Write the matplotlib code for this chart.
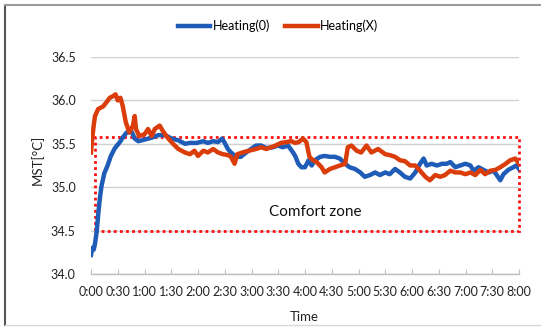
import matplotlib
matplotlib.use('Agg')
import matplotlib.pyplot as plt
from matplotlib.patches import Rectangle
from matplotlib.lines import Line2D

plt.rcParams['font.family'] = ['Lato', 'DejaVu Sans']

# elapsed time in minutes, skin temperature in degC
t_on = [0, 1.5, 3, 4.5, 6.4, 8.2, 10, 11.9, 14.9, 18.6, 22.3, 26.8, 32.4, 36.1, 40, 45.6,
        49, 53, 57, 60.6, 68, 75.5, 83, 90.5, 98, 105.4, 111, 118.5, 126, 131, 137, 142.5,
        147, 150, 153.5, 157, 162.6, 168, 174, 179.5, 185, 191, 196.5, 204, 209.7, 215, 221,
        226.6, 229, 232.5, 236, 240, 244, 247.5, 251, 257, 262, 268, 273.6, 279, 285, 290,
        296, 302, 307, 313, 318.6, 324, 330, 335, 341, 346.5, 352, 358, 363.7, 369, 373,
        376.5, 382, 388, 393.6, 399, 403, 408.6, 414, 420, 425.5, 429, 434.7, 440, 446,
        451.5, 455, 459, 462.6, 468, 473.6, 477, 480]
mst_on = [34.22, 34.30, 34.28, 34.35, 34.49, 34.70, 34.88, 35.02, 35.16, 35.25, 35.36, 35.45,
          35.52, 35.58, 35.63, 35.64, 35.56, 35.53, 35.54, 35.55, 35.57, 35.60, 35.60, 35.56,
          35.54, 35.50, 35.51, 35.51, 35.53, 35.51, 35.53, 35.52, 35.56, 35.51, 35.44, 35.40,
          35.35, 35.35, 35.40, 35.44, 35.48, 35.48, 35.45, 35.46, 35.48, 35.46, 35.48, 35.40,
          35.36, 35.27, 35.23, 35.23, 35.31, 35.25, 35.31, 35.35, 35.36, 35.35, 35.35, 35.33,
          35.27, 35.23, 35.21, 35.17, 35.12, 35.14, 35.17, 35.14, 35.17, 35.15, 35.21, 35.17,
          35.12, 35.10, 35.17, 35.27, 35.33, 35.25, 35.27, 35.25, 35.27, 35.27, 35.29, 35.23,
          35.25, 35.27, 35.25, 35.19, 35.23, 35.20, 35.17, 35.19, 35.14, 35.08, 35.15, 35.20,
          35.23, 35.25, 35.21]

t_off = [0, 1, 3, 4.5, 8, 13.5, 17.5, 21, 25, 27.5, 30, 33, 35.5, 39, 43, 47, 49, 50.5, 54,
         60, 64, 68, 71.5, 77, 81, 86, 92, 98, 105.4, 111, 116, 120, 126, 131, 137, 142.5,
         148, 153.5, 157, 161, 164, 170, 177, 185, 191, 196.5, 202, 207, 213, 219, 224.7,
         229, 233, 237.8, 241.5, 245, 249, 253, 258.6, 262, 268, 273.6, 279, 285, 288, 292,
         298, 303, 309, 314.5, 322, 330, 335, 341, 346.6, 352, 358, 363.7, 369, 375, 380,
         386, 391.6, 397, 403, 408.6, 414, 420, 425.5, 431, 436.6, 442, 448, 453.7, 459,
         465, 470, 476, 480]
mst_off = [35.40, 35.52, 35.71, 35.82, 35.90, 35.93, 35.98, 36.03, 36.05, 36.07, 36.00, 36.03,
           35.94, 35.75, 35.63, 35.71, 35.82, 35.67, 35.59, 35.61, 35.67, 35.59, 35.67, 35.71,
           35.64, 35.57, 35.50, 35.44, 35.40, 35.38, 35.42, 35.36, 35.42, 35.40, 35.44, 35.40,
           35.38, 35.37, 35.35, 35.27, 35.38, 35.40, 35.42, 35.44, 35.46, 35.44, 35.46, 35.48,
           35.51, 35.52, 35.53, 35.51, 35.52, 35.56, 35.52, 35.35, 35.31, 35.29, 35.23, 35.17,
           35.21, 35.23, 35.25, 35.27, 35.46, 35.48, 35.42, 35.40, 35.48, 35.40, 35.44, 35.38,
           35.37, 35.35, 35.31, 35.30, 35.25, 35.25, 35.19, 35.12, 35.08, 35.14, 35.12, 35.14,
           35.19, 35.17, 35.17, 35.15, 35.17, 35.14, 35.20, 35.15, 35.19, 35.20, 35.23, 35.27,
           35.31, 35.33, 35.27]

tick_min = list(range(0, 481, 30))
tick_lab = ['%d:%02d' % (m // 60, m % 60) for m in tick_min]
y_ticks = [34.0, 34.5, 35.0, 35.5, 36.0, 36.5]

# comfort zone box: start time, lower / upper temperature
zone_t0 = 4
zone_lo = 34.5
zone_hi = 35.58

fig = plt.figure(figsize=(5.41, 3.27), dpi=100)
ax = fig.add_axes([91 / 541, 1 - 274 / 327, 428 / 541, 217 / 327])

ax.plot(t_on, mst_on, color='#1F5CB8', lw=3.2, label='Heating(0)', zorder=3)
ax.plot(t_off, mst_off, color='#DA3D0A', lw=3.2, label='Heating(X)', zorder=4)

ax.add_patch(Rectangle((zone_t0, zone_lo), 480 - zone_t0, zone_hi - zone_lo, fill=False,
                       edgecolor='#FF1010', lw=2.0, ls=(0, (1, 1.2)), zorder=2, clip_on=False))
ax.text(251, 34.715, 'Comfort zone', ha='center', va='center', fontsize=11, color='#111111')

ax.set_xlim(0, 480)
ax.set_ylim(34.0, 36.5)
ax.set_xticks(tick_min)
ax.set_xticklabels(tick_lab)
ax.set_yticks(y_ticks)
ax.set_yticklabels(['%.1f' % v for v in y_ticks])
ax.tick_params(axis='x', direction='in', length=3.5, width=0.8, color='#BFBFBF',
               labelsize=9, pad=9, labelcolor='#222222')
ax.tick_params(axis='y', length=0, labelsize=9, pad=11, labelcolor='#222222')
ax.grid(axis='y', color='#D0D0D0', lw=1.0)
ax.set_axisbelow(True)
for s in ['top', 'right', 'left']:
    ax.spines[s].set_visible(False)
ax.spines['bottom'].set_color('#BFBFBF')
ax.spines['bottom'].set_linewidth(1.0)

fig.legend(loc='center', bbox_to_anchor=(278 / 541, 1 - 26 / 327), ncol=2, frameon=False,
           fontsize=9, handlelength=2.6, handletextpad=0.2, columnspacing=1.2)

fig.text(37 / 541, 1 - 160 / 327, 'MST[°C]', rotation=90, ha='center', va='center',
         fontsize=9.5, color='#222222')
fig.text(304 / 541, 1 - 317 / 327, 'Time', ha='center', va='center', fontsize=9.5,
         color='#222222')

# outer frame
fig.add_artist(Line2D([5 / 541, 5 / 541], [0.005, 1 - 5 / 327], color='#555555', lw=1.5))
fig.add_artist(Line2D([5 / 541, 1.0], [1 - 5 / 327, 1 - 5 / 327], color='#9A9A9A', lw=1.5))
fig.add_artist(Line2D([5 / 541, 1.0], [1 - 325 / 327, 1 - 325 / 327], color='#D8D8D8', lw=1.0))

fig.savefig('out.png', dpi=100)
